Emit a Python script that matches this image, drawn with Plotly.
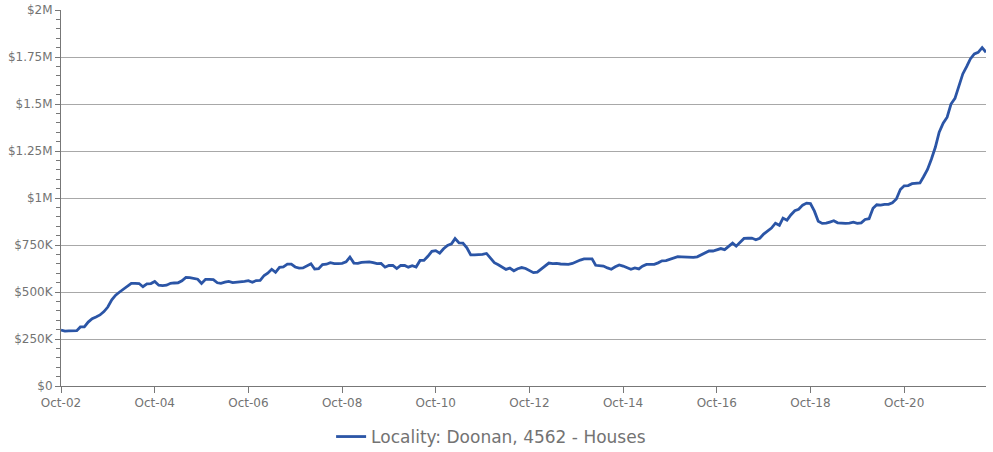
import pandas as pd
import plotly.graph_objects as go

# Monthly median values (Oct 2002 - Jul 2022), in thousands of dollars
start_month = "2002-10-01"
values_k = [
    298, 292, 293, 295, 294, 314, 314, 340, 358, 367,
    378, 396, 420, 458, 483, 500, 517, 530, 546, 546,
    545, 528, 543, 545, 556, 536, 534, 536, 546, 548,
    549, 560, 578, 576, 572, 568, 545, 567, 567, 566,
    549, 546, 552, 556, 550, 551, 552, 557, 560, 552,
    561, 562, 588, 600, 621, 605, 631, 634, 648, 648,
    633, 627, 628, 640, 650, 622, 624, 646, 648, 656,
    651, 651, 652, 660, 686, 654, 652, 658, 661, 660,
    656, 651, 652, 632, 641, 641, 625, 642, 641, 632,
    640, 633, 668, 668, 690, 716, 720, 706, 730, 748,
    756, 784, 761, 760, 735, 697, 697, 697, 700, 705,
    679, 656, 645, 635, 620, 627, 613, 624, 630, 625,
    612, 603, 606, 622, 640, 654, 651, 652, 649, 647,
    647, 652, 662, 670, 676, 676, 676, 642, 641, 638,
    628, 621, 634, 644, 638, 631, 621, 628, 623, 637,
    647, 647, 647, 655, 666, 667, 674, 683, 688, 687,
    686, 685, 684, 687, 698, 709, 718, 718, 726, 731,
    725, 744, 760, 744, 766, 785, 786, 787, 778, 786,
    808, 822, 840, 866, 855, 893, 882, 910, 932, 940,
    962, 973, 970, 930, 876, 865, 866, 872, 879, 868,
    865, 865, 866, 871, 865, 868, 886, 890, 945, 964,
    962, 966, 966, 975, 995, 1045, 1065, 1066, 1076, 1076,
    1080, 1113, 1152, 1206, 1270, 1350, 1398, 1430, 1500, 1530,
    1590, 1660, 1700, 1740, 1766, 1775, 1800, 1775,
]
series_name = "Locality: Doonan, 4562 - Houses"

x_tick_labels = ["Oct-02", "Oct-04", "Oct-06", "Oct-08", "Oct-10",
                 "Oct-12", "Oct-14", "Oct-16", "Oct-18", "Oct-20"]
x_tick_dates = ["2002-10-01", "2004-10-01", "2006-10-01", "2008-10-01", "2010-10-01",
                "2012-10-01", "2014-10-01", "2016-10-01", "2018-10-01", "2020-10-01"]
y_tick_values = [0, 250000, 500000, 750000, 1000000, 1250000, 1500000, 1750000, 2000000]
y_tick_labels = ["$0", "$250K", "$500K", "$750K", "$1M", "$1.25M", "$1.5M", "$1.75M", "$2M"]

dates = pd.date_range(start_month, periods=len(values_k), freq="MS")
values = [v * 1000 for v in values_k]

FONT = "DejaVu Sans"
GREY = "#737373"

fig = go.Figure()
fig.add_trace(go.Scatter(
    x=dates, y=values, mode="lines", name=series_name,
    line=dict(color="#2b55a6", width=2.8),
    cliponaxis=False,
))

fig.update_layout(
    width=993, height=452,
    margin=dict(l=61, r=7, t=10, b=66),
    paper_bgcolor="white", plot_bgcolor="white",
    font=dict(family=FONT, color=GREY, size=12),
    showlegend=True,
    legend=dict(orientation="h", x=0.292, xanchor="left",
                yref="container", y=1 - 437 / 452, yanchor="middle",
                font=dict(size=17, color=GREY, family=FONT)),
)
fig.update_xaxes(
    type="date",
    range=[dates[0], dates[-1]],
    automargin=False,
    tickmode="array", tickvals=x_tick_dates, ticktext=x_tick_labels,
    ticks="outside", ticklen=6, tickcolor="#777", tickwidth=1,
    showline=True, linecolor="#777", linewidth=1,
    showgrid=False, zeroline=False,
    tickfont=dict(size=12, color=GREY),
)
fig.update_yaxes(
    range=[0, 2000000],
    automargin=False,
    tickmode="array", tickvals=y_tick_values, ticktext=y_tick_labels,
    ticks="outside", ticklen=5, tickcolor="#777", tickwidth=1,
    minor=dict(dtick=50000, tick0=0, ticks="outside", ticklen=4, tickcolor="#777", showgrid=False),
    showline=True, linecolor="#777", linewidth=1,
    showgrid=True, gridcolor="#a8a8a8", gridwidth=1,
    zeroline=False,
    tickfont=dict(size=12, color=GREY),
)

fig.write_html("out.html", config={"displayModeBar": False},
               post_script="document.body.style.margin='0';document.body.style.overflow='hidden';")
